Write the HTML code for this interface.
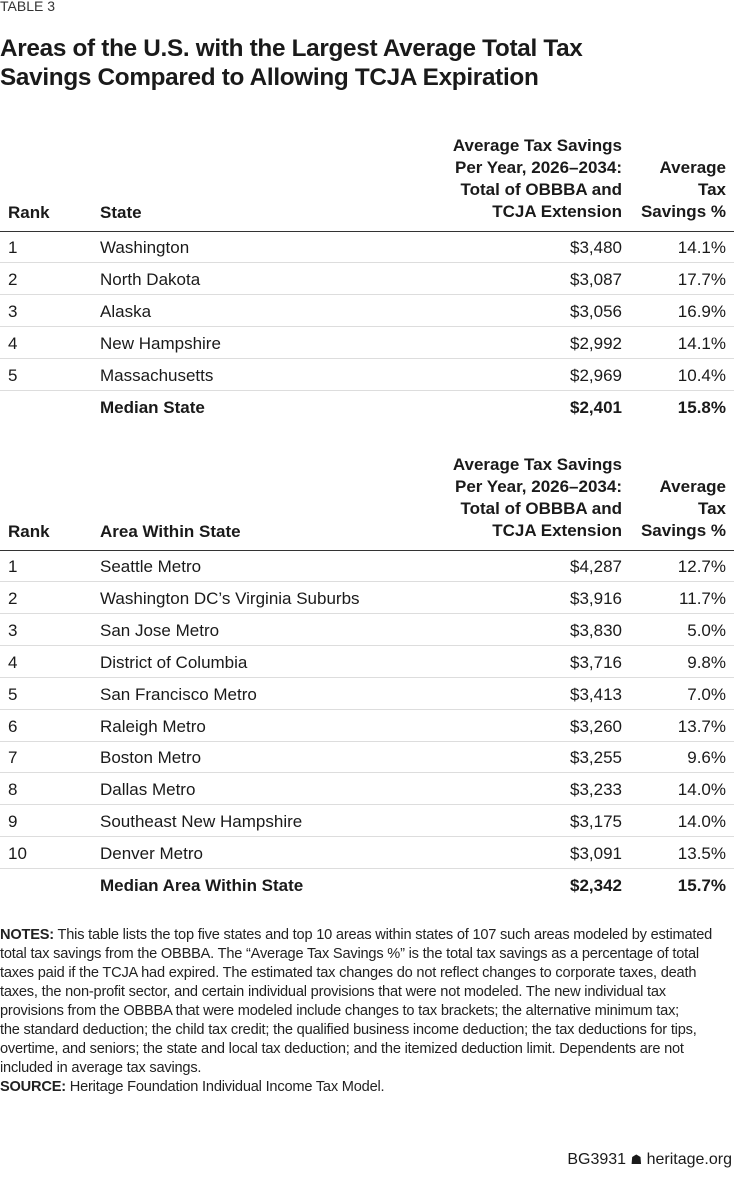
<!DOCTYPE html>
<html><head><meta charset="utf-8"><style>
body{margin:0;background:#fff;}
#c{position:relative;width:734px;height:1178px;font-family:"Liberation Sans",sans-serif;color:#1a1a1a;overflow:hidden}
.t{position:absolute;white-space:nowrap;line-height:22px;font-size:17px}
.b{font-weight:bold}
.r{text-align:right}
.hl{position:absolute;left:0;width:734px;height:1px;background:#ddd}
.dl{position:absolute;left:0;width:734px;height:1px;background:#333}
.n{position:absolute;left:0;white-space:nowrap;font-size:14.6px;line-height:18.9px;letter-spacing:-0.2px;color:#222}
</style></head><body><div id="c">
<div class="t" style="left:0;top:-5px;font-size:14px;color:#333">TABLE 3</div>
<div class="t b" style="left:0;top:34px;font-size:24.3px;line-height:29px;letter-spacing:-0.3px">Areas of the U.S. with the Largest Average Total Tax<br>Savings Compared to Allowing TCJA Expiration</div>

<div class="t b r" style="right:112px;top:135px;width:300px">Average Tax Savings<br>Per Year, 2026–2034:<br>Total of OBBBA and<br>TCJA Extension</div>
<div class="t b r" style="right:8px;top:157px;width:100px">Average<br>Tax<br>Savings %</div>
<div class="t b" style="left:8px;top:202px">Rank</div>
<div class="t b" style="left:100px;top:202px">State</div>
<div class="dl" style="top:231px"></div>

<div id="t1"></div>

<div class="t b r" style="right:112px;top:454px;width:300px">Average Tax Savings<br>Per Year, 2026–2034:<br>Total of OBBBA and<br>TCJA Extension</div>
<div class="t b r" style="right:8px;top:476px;width:100px">Average<br>Tax<br>Savings %</div>
<div class="t b" style="left:8px;top:521px">Rank</div>
<div class="t b" style="left:100px;top:521px">Area Within State</div>
<div class="dl" style="top:550px"></div>
<div id="t2"></div>

<div class="n" style="top:926px"><b>NOTES:</b> This table lists the top five states and top 10 areas within states of 107 such areas modeled by estimated</div>
<div class="n" style="top:945px">total tax savings from the OBBBA. The “Average Tax Savings %” is the total tax savings as a percentage of total</div>
<div class="n" style="top:964px">taxes paid if the TCJA had expired. The estimated tax changes do not reflect changes to corporate taxes, death</div>
<div class="n" style="top:983px">taxes, the non-profit sector, and certain individual provisions that were not modeled. The new individual tax</div>
<div class="n" style="top:1002px">provisions from the OBBBA that were modeled include changes to tax brackets; the alternative minimum tax;</div>
<div class="n" style="top:1021px">the standard deduction; the child tax credit; the qualified business income deduction; the tax deductions for tips,</div>
<div class="n" style="top:1040px">overtime, and seniors; the state and local tax deduction; and the itemized deduction limit. Dependents are not</div>
<div class="n" style="top:1059px">included in average tax savings.</div>
<div class="n" style="top:1078px"><b>SOURCE:</b> Heritage Foundation Individual Income Tax Model.</div>

<div class="t r" style="right:2px;top:1149px;font-size:16px">BG3931 <span style="font-size:13px">&#9751;</span> heritage.org</div>
</div>
<script>
function rows(id,y0,data,last){
 var h='';
 data.forEach(function(d,i){
  var y=y0+i*31.9, top=y-10;
  h+='<div class="t" style="left:8px;top:'+top+'px">'+d[0]+'</div>';
  h+='<div class="t" style="left:100px;top:'+top+'px">'+d[1]+'</div>';
  h+='<div class="t r" style="right:112px;top:'+top+'px">'+d[2]+'</div>';
  h+='<div class="t r" style="right:8px;top:'+top+'px">'+d[3]+'</div>';
  h+='<div class="hl" style="top:'+Math.round(y+15)+'px"></div>';
 });
 var y=y0+data.length*31.9, top=y-10;
 h+='<div class="t b" style="left:100px;top:'+top+'px">'+last[0]+'</div>';
 h+='<div class="t b r" style="right:112px;top:'+top+'px">'+last[1]+'</div>';
 h+='<div class="t b r" style="right:8px;top:'+top+'px">'+last[2]+'</div>';
 document.getElementById(id).outerHTML=h;
}
rows('t1',247,[["1","Washington","$3,480","14.1%"],["2","North Dakota","$3,087","17.7%"],["3","Alaska","$3,056","16.9%"],["4","New Hampshire","$2,992","14.1%"],["5","Massachusetts","$2,969","10.4%"]],["Median State","$2,401","15.8%"]);
rows('t2',566,[["1","Seattle Metro","$4,287","12.7%"],["2","Washington DC’s Virginia Suburbs","$3,916","11.7%"],["3","San Jose Metro","$3,830","5.0%"],["4","District of Columbia","$3,716","9.8%"],["5","San Francisco Metro","$3,413","7.0%"],["6","Raleigh Metro","$3,260","13.7%"],["7","Boston Metro","$3,255","9.6%"],["8","Dallas Metro","$3,233","14.0%"],["9","Southeast New Hampshire","$3,175","14.0%"],["10","Denver Metro","$3,091","13.5%"]],["Median Area Within State","$2,342","15.7%"]);
</script>
</body></html>
